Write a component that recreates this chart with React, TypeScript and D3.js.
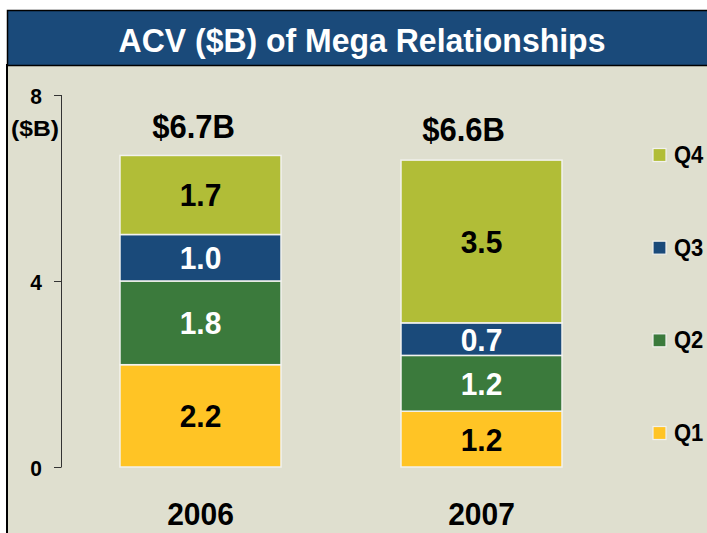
import React from "react";
import * as d3 from "d3";

const years = ["2006", "2007"];
const quarters = ["Q1", "Q2", "Q3", "Q4"];
const q1 = [2.2, 1.2];
const q2 = [1.8, 1.2];
const q3 = [1.0, 0.7];
const q4 = [1.7, 3.5];
const totalLabels = ["$6.7B", "$6.6B"];
const yTicks = [0, 4, 8];
const title = "ACV ($B) of Mega Relationships";

const colors: Record<string, string> = {
  Q1: "#ffc425",
  Q2: "#3b7a3c",
  Q3: "#1a4a7a",
  Q4: "#b1bd37",
};
const textColors: Record<string, string> = {
  Q1: "#000",
  Q2: "#fff",
  Q3: "#fff",
  Q4: "#000",
};

const W = 707;
const H = 533;
const FONT = "'Liberation Sans', Arial, sans-serif";

function T(props: {
  x: number;
  y: number;
  size: number;
  sy?: number;
  fill?: string;
  anchor?: string;
  children: any;
  textLength?: number;
}) {
  const { x, y, size, sy = 1.07, fill = "#000", anchor = "middle", children, textLength } = props;
  return (
    <text
      transform={`translate(${x},${y}) scale(1,${sy})`}
      textAnchor={anchor}
      fontSize={size}
      fill={fill}
      textLength={textLength}
      lengthAdjust={textLength ? "spacingAndGlyphs" : undefined}
    >
      {children}
    </text>
  );
}

export default function App() {
  const rows = years.map((y, i) => ({ year: y, Q1: q1[i], Q2: q2[i], Q3: q3[i], Q4: q4[i] }));
  const series = d3.stack<any>().keys(quarters)(rows);
  const y = d3.scaleLinear().domain([0, 8]).range([467, 95]);
  const x = d3
    .scaleBand()
    .domain(years)
    .range([60, 622])
    .paddingInner(0.427)
    .paddingOuter(0.2135);
  const bw = x.bandwidth();
  const totalOffsets = [-7, -18];
  const legendY = d3.scalePoint().domain([...quarters].reverse()).range([155, 433]);

  return (
    <svg
      width={W}
      height={H}
      style={{ position: "absolute", left: 0, top: 0, display: "block" }}
      fontFamily={FONT}
      fontWeight="bold"
    >
      <rect x={0} y={0} width={W} height={H} fill="#ffffff" />
      {/* body */}
      <rect x={7} y={65} width={W} height={H} fill="#dfdfcf" stroke="#000" strokeWidth={2} />
      {/* banner */}
      <rect x={7.5} y={10.5} width={W} height={55} fill="#1a4a7a" stroke="#000" strokeWidth={1.5} />
      <T x={362} y={52} size={32} sy={1.04} fill="#fff">
        {title}
      </T>

      {/* axis */}
      <line x1={61.5} x2={61.5} y1={y(8)} y2={y(0)} stroke="#333" strokeWidth={1} />
      {yTicks.map((t) => (
        <g key={t}>
          <line x1={54} x2={61.5} y1={y(t) + 0.5} y2={y(t) + 0.5} stroke="#333" strokeWidth={1} />
          <T x={36} y={y(t) + 8.5} size={21} sy={1.03}>
            {t}
          </T>
        </g>
      ))}
      <T x={35} y={136} size={22} sy={1.0} textLength={48}>
        ($B)
      </T>

      {/* bars */}
      {series.map((s) => (
        <g key={s.key}>
          {s.map((d: any, i: number) => {
            const x0 = x(years[i]) as number;
            const top = y(d[1]);
            const bot = y(d[0]);
            return (
              <g key={i}>
                <rect
                  x={x0}
                  y={top}
                  width={bw}
                  height={bot - top}
                  fill={colors[s.key]}
                  stroke="#f2f2ee"
                  strokeWidth={1.5}
                />
                <T x={x0 + bw / 2} y={(top + bot) / 2 + 11.5} size={30} fill={textColors[s.key]}>
                  {(d[1] - d[0]).toFixed(1)}
                </T>
              </g>
            );
          })}
        </g>
      ))}

      {/* totals */}
      {years.map((yr, i) => (
        <T key={yr} x={(x(yr) as number) + bw / 2 + totalOffsets[i]} y={i === 0 ? 138 : 141} size={31} sy={1.05}>
          {totalLabels[i]}
        </T>
      ))}

      {/* year labels */}
      {years.map((yr) => (
        <T key={yr} x={(x(yr) as number) + bw / 2} y={525} size={30} sy={1.04}>
          {yr}
        </T>
      ))}

      {/* legend */}
      {quarters.map((q) => {
        const cy = legendY(q) as number;
        return (
          <g key={q}>
            <rect x={653} y={cy - 6.5} width={13} height={13} fill={colors[q]} stroke="#f2f2ee" strokeWidth={1.2} />
            <T x={674} y={cy + 8} size={22} sy={1.06} anchor="start">
              {q}
            </T>
          </g>
        );
      })}
    </svg>
  );
}
